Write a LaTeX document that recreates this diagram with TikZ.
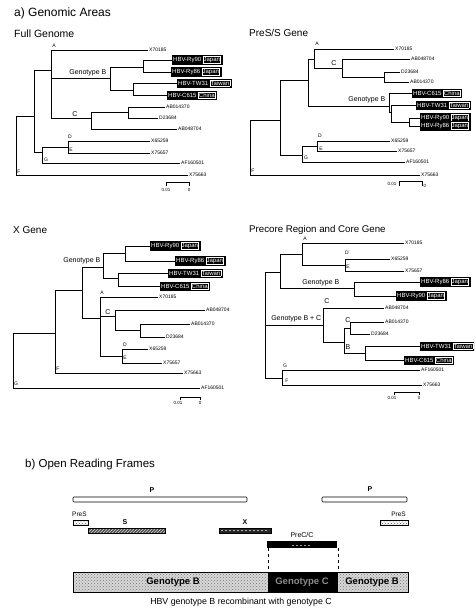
\documentclass[tikz,border=0pt]{standalone}
\usepackage{fontspec}
\setmainfont{Liberation Sans}
\usetikzlibrary{patterns}
\newcommand\sbx[2]{#1\hspace{1.5pt}{\setlength\fboxsep{0.5pt}\setlength\fboxrule{0.4pt}\fcolorbox{white}{black}{#2}}}
\begin{document}
\begin{tikzpicture}[x=1pt,y=-1pt,
 tree/.style={line width=0.75pt},
 leaf/.style={anchor=west, inner sep=1pt, font=\fontsize{5}{6}\selectfont},
 strain/.style={anchor=west, fill=black, draw=black, text=white, inner sep=1pt, font=\fontsize{6}{7}\selectfont},
 clade/.style={inner sep=0pt, font=\fontsize{5}{6}\selectfont},
 glab/.style={anchor=south east, inner sep=0.5pt, font=\fontsize{7}{8}\selectfont},
 sub/.style={anchor=west, inner sep=0pt, font=\fontsize{10}{12}\selectfont},
 ttl/.style={anchor=west, inner sep=0pt, font=\fontsize{12}{14}\selectfont},
 sc/.style={inner sep=0.5pt, font=\fontsize{4.5}{5}\selectfont},
 orf/.style={inner sep=0pt, font=\fontsize{7}{8}\selectfont\bfseries},
 bar/.style={line width=0.6pt}]
\useasboundingbox (0,0) rectangle (474,612);
\clip (0,0) rectangle (474,612);

\node[ttl] (ta) at (14,13) {a)\ Genomic Areas};

% ================= Panel 1: Full Genome
\node[sub,font=\fontsize{10.5}{12}\selectfont] (t1) at (14,34) {Full Genome};
\coordinate (r1) at (16,145);
\coordinate (n1) at (34,116);
\coordinate (n2) at (51,70);
\coordinate (nB) at (110,78);
\coordinate (nB1) at (143,67);
\coordinate (nB2) at (133,90);
\coordinate (nC) at (91,118);
\coordinate (nC1) at (128,112);
\coordinate (nG) at (42,152);
\coordinate (nD) at (68,147);
\node[leaf] (a1) at (148,50) {X70185};
\node[strain] (b11) at (172,60) {\sbx{HBV-Ry90}{Japan}};
\node[strain] (b12) at (171,72) {\sbx{HBV-Ry86}{Japan}};
\node[strain] (b13) at (177,83) {\sbx{HBV-TW31}{Taiwan}};
\node[strain] (b14) at (167,95) {\sbx{HBV-C615}{China}};
\node[leaf] (c11) at (165,107) {AB014370};
\node[leaf] (c12) at (158,118) {D23684};
\node[leaf] (c13) at (177,129) {AB048704};
\node[leaf] (d1) at (150,141) {X65259};
\node[leaf] (e1) at (150,153) {X75657};
\node[leaf] (g1) at (180,163) {AF160501};
\node[leaf] (f1) at (188,175) {X75663};
\draw[tree] (r1) |- (n1); \draw[tree] (r1) |- (f1.west);
\draw[tree] (n1) |- (n2); \draw[tree] (n1) |- (nG);
\draw[tree] (n2) |- (a1.west); \draw[tree] (n2) |- (nB); \draw[tree] (n2) |- (nC);
\draw[tree] (nB) |- (nB1); \draw[tree] (nB) |- (nB2);
\draw[tree] (nB1) |- (b11.west); \draw[tree] (nB1) |- (b12.west);
\draw[tree] (nB2) |- (b13.west); \draw[tree] (nB2) |- (b14.west);
\draw[tree] (nC) |- (nC1); \draw[tree] (nC) |- (c13.west);
\draw[tree] (nC1) |- (c11.west); \draw[tree] (nC1) |- (c12.west);
\draw[tree] (nG) |- (nD); \draw[tree] (nG) |- (g1.west);
\draw[tree] (nD) |- (d1.west); \draw[tree] (nD) |- (e1.west);
\node[clade] (l1A) at (54,46) {A};
\node[glab] (l1B) at (107,77) {Genotype B};
\node[clade,font=\fontsize{7}{8}\selectfont] (l1C) at (75,114) {C};
\node[clade] (l1D) at (70,137) {D};
\node[clade] (l1E) at (71,150) {E};
\node[clade] (l1G) at (46,160) {G};
\node[clade] (l1F) at (19,172) {F};
\coordinate (s1a) at (166,182); \coordinate (s1b) at (189,182);
\draw[tree] ([yshift=-4pt]s1a) -- (s1a) -- (s1b) -- ([yshift=-4pt]s1b);
\node[sc] (s1l) at (166,190) {0.01};
\node[sc] (s1r) at (189,190) {0};

% ================= Panel 2: PreS/S Gene
\node[sub] (t2) at (249,33) {PreS/S Gene};
\coordinate (r2) at (250,150);
\coordinate (n21) at (280,120);
\coordinate (n22) at (308,80);
\coordinate (nA2) at (314,59);
\coordinate (nC2) at (342,68);
\coordinate (nC2b) at (384,77);
\coordinate (nB2x) at (389,106);
\coordinate (nB2b) at (391,112);
\coordinate (nB2c) at (409,122);
\coordinate (nD2G) at (302,155);
\coordinate (nD2) at (317,146);
\node[leaf] (a2) at (394,49) {X70185};
\node[leaf] (c21) at (410,59) {AB048704};
\node[leaf] (c22) at (400,72) {D23684};
\node[leaf] (c23) at (409,82) {AB014370};
\node[strain] (b21) at (412,93) {\sbx{HBV-C615}{China}};
\node[strain] (b22) at (416,105) {\sbx{HBV-TW31}{Taiwan}};
\node[strain] (b23) at (420,118) {\sbx{HBV-Ry90}{Japan}};
\node[strain] (b24) at (420,126) {\sbx{HBV-Ry86}{Japan}};
\node[leaf] (d2) at (390,141) {X65259};
\node[leaf] (e2) at (397,151) {X75657};
\node[leaf] (g2) at (405,162) {AF160501};
\node[leaf] (f2) at (420,175) {X75663};
\draw[tree] (r2) |- (n21); \draw[tree] (r2) |- (f2.west);
\draw[tree] (n21) |- (n22); \draw[tree] (n21) |- (nD2G);
\draw[tree] (n22) |- (nA2); \draw[tree] (n22) |- (nB2x);
\draw[tree] (nA2) |- (a2.west); \draw[tree] (nA2) |- (nC2);
\draw[tree] (nC2) |- (c21.west); \draw[tree] (nC2) |- (nC2b);
\draw[tree] (nC2b) |- (c22.west); \draw[tree] (nC2b) |- (c23.west);
\draw[tree] (nB2x) |- (b21.west); \draw[tree] (nB2x) |- (nB2b);
\draw[tree] (nB2b) |- (b22.west); \draw[tree] (nB2b) |- (nB2c);
\draw[tree] (nB2c) |- (b23.west); \draw[tree] (nB2c) |- (b24.west);
\draw[tree] (nD2G) |- (nD2); \draw[tree] (nD2G) |- (g2.west);
\draw[tree] (nD2) |- (d2.west); \draw[tree] (nD2) |- (e2.west);
\node[clade] (l2A) at (317,44) {A};
\node[clade,font=\fontsize{7}{8}\selectfont] (l2C) at (334,63) {C};
\node[glab] (l2B) at (386,104) {Genotype B};
\node[clade] (l2D) at (320,136) {D};
\node[clade] (l2E) at (321,149) {E};
\node[clade] (l2G) at (306,158) {G};
\node[clade] (l2F) at (253,171) {F};
\coordinate (s2a) at (399,181); \coordinate (s2b) at (422,181);
\draw[tree] ([yshift=-5pt]s2a) -- (s2a) -- (s2b) -- ([yshift=-5pt]s2b);
\node[sc,anchor=east] (s2l) at (397,184) {0.01};
\node[sc,anchor=west] (s2r) at (423,186) {0};

% ================= Panel 3: X Gene
\node[sub] (t3) at (13,230) {X Gene};
\coordinate (r3) at (13,360);
\coordinate (n31) at (55,333);
\coordinate (n32) at (82,290);
\coordinate (nB3) at (103,267);
\coordinate (nB3a) at (125,253);
\coordinate (nB3b) at (118,278);
\coordinate (nA3) at (100,318);
\coordinate (nC3) at (115,316);
\coordinate (nC3b) at (140,330);
\coordinate (nDE3) at (122,356);
\node[strain] (b31) at (150,246) {\sbx{HBV-Ry90}{Japan}};
\node[strain] (b32) at (175,261) {\sbx{HBV-Ry86}{Japan}};
\node[strain] (b33) at (168,273) {\sbx{HBV-TW31}{Taiwan}};
\node[strain] (b34) at (160,286) {\sbx{HBV-C615}{China}};
\node[leaf] (a3) at (158,297) {X70185};
\node[leaf] (c31) at (205,310) {AB048704};
\node[leaf] (c32) at (190,324) {AB014370};
\node[leaf] (c33) at (165,337) {D23684};
\node[leaf] (d3) at (148,349) {X65259};
\node[leaf] (e3) at (162,363) {X75657};
\node[leaf] (f3) at (183,373) {X75663};
\node[leaf] (g3) at (200,388) {AF160501};
\draw[tree] (r3) |- (n31); \draw[tree] (r3) |- (g3.west);
\draw[tree] (n31) |- (n32); \draw[tree] (n31) |- (f3.west);
\draw[tree] (n32) |- (nB3); \draw[tree] (n32) |- (nA3);
\draw[tree] (nB3) |- (nB3a); \draw[tree] (nB3) |- (nB3b);
\draw[tree] (nB3a) |- (b31.west); \draw[tree] (nB3a) |- (b32.west);
\draw[tree] (nB3b) |- (b33.west); \draw[tree] (nB3b) |- (b34.west);
\draw[tree] (nA3) |- (a3.west); \draw[tree] (nA3) |- (nC3); \draw[tree] (nA3) |- (nDE3);
\draw[tree] (nC3) |- (c31.west); \draw[tree] (nC3) |- (nC3b);
\draw[tree] (nC3b) |- (c32.west); \draw[tree] (nC3b) |- (c33.west);
\draw[tree] (nDE3) |- (d3.west); \draw[tree] (nDE3) |- (e3.west);
\node[glab] (l3B) at (101,265) {Genotype B};
\node[clade] (l3A) at (102,293) {A};
\node[clade,font=\fontsize{7}{8}\selectfont] (l3C) at (108,312) {C};
\node[clade] (l3D) at (125,345) {D};
\node[clade] (l3E) at (125,358) {E};
\node[clade] (l3F) at (58,369) {F};
\node[clade] (l3G) at (16,384) {G};
\coordinate (s3a) at (180,397); \coordinate (s3b) at (200,397);
\draw[tree] ([yshift=-3pt]s3a) -- (s3a) -- (s3b) -- ([yshift=-3pt]s3b);
\node[sc] (s3l) at (178,403) {0.01};
\node[sc] (s3r) at (200,403) {0};

% ================= Panel 4: Precore Region and Core Gene
\node[sub,font=\fontsize{9.7}{12}\selectfont] (t4) at (249,230) {Precore Region and Core Gene};
\coordinate (r4) at (265,325);
\coordinate (n41) at (280,272);
\coordinate (nA4) at (302,254);
\coordinate (nDE4) at (345,265);
\coordinate (nB4) at (354,288);
\coordinate (nBC) at (323,325);
\coordinate (nCB) at (344,342);
\coordinate (nC4) at (350,328);
\coordinate (nB4b) at (365,353);
\coordinate (nGF) at (282,378);
\node[leaf] (a4) at (404,243) {X70185};
\node[leaf] (d4) at (390,259) {X65259};
\node[leaf] (e4) at (404,271) {X75657};
\node[strain] (b41) at (420,282) {\sbx{HBV-Ry86}{Japan}};
\node[strain] (b42) at (396,296) {\sbx{HBV-Ry90}{Japan}};
\node[leaf] (c41) at (384,308) {AB048704};
\node[leaf] (c42) at (384,322) {AB014370};
\node[leaf] (c43) at (370,334) {D23684};
\node[strain] (b43) at (420,346) {\sbx{HBV-TW31}{Taiwan}};
\node[strain] (b44) at (404,360) {\sbx{HBV-C615}{China}};
\node[leaf] (g4) at (420,370) {AF160501};
\node[leaf] (f4) at (422,385) {X75663};
\draw[tree] (r4) |- (n41); \draw[tree] (r4) |- (nBC); \draw[tree] (r4) |- (nGF);
\draw[tree] (n41) |- (nA4); \draw[tree] (n41) |- (nB4);
\draw[tree] (nA4) |- (a4.west); \draw[tree] (nA4) |- (nDE4);
\draw[tree] (nDE4) |- (d4.west); \draw[tree] (nDE4) |- (e4.west);
\draw[tree] (nB4) |- (b41.west); \draw[tree] (nB4) |- (b42.west);
\draw[tree] (nBC) |- (c41.west); \draw[tree] (nBC) |- (nCB);
\draw[tree] (nCB) |- (nC4); \draw[tree] (nCB) |- (nB4b);
\draw[tree] (nC4) |- (c42.west); \draw[tree] (nC4) |- (c43.west);
\draw[tree] (nB4b) |- (b43.west); \draw[tree] (nB4b) |- (b44.west);
\draw[tree] (nGF) |- (g4.west); \draw[tree] (nGF) |- (f4.west);
\node[clade] (l4A) at (305,239) {A};
\node[clade] (l4D) at (347,253) {D};
\node[clade] (l4E) at (348,267) {E};
\node[glab] (l4B) at (340,287) {Genotype B};
\node[glab] (l4BC) at (322,323) {Genotype B + C};
\node[clade,font=\fontsize{7}{8}\selectfont] (l4C1) at (327,301) {C};
\node[clade,font=\fontsize{7}{8}\selectfont] (l4C2) at (348,320) {C};
\node[clade,font=\fontsize{7}{8}\selectfont] (l4Bx) at (348,347) {B};
\node[clade] (l4G) at (285,366) {G};
\node[clade] (l4F) at (287,381) {F};
\coordinate (s4a) at (394,392); \coordinate (s4b) at (419,392);
\draw[tree] ([yshift=-3pt]s4a) -- (s4a) -- (s4b) -- ([yshift=-3pt]s4b);
\node[sc] (s4l) at (392,398) {0.01};
\node[sc] (s4r) at (419,398) {0};

% ================= Panel b: Open Reading Frames
\node[ttl,font=\fontsize{11.5}{13}\selectfont] (tb) at (25,465) {b)\ Open Reading Frames};
\draw[bar,fill=white,rounded corners=1pt] (73,497) rectangle (247,502);
\draw[bar,fill=white,rounded corners=1pt] (322,497) rectangle (407,502);
\node[orf] (P1) at (152,490) {P};
\node[orf] (P2) at (370,489) {P};
\node[orf,anchor=south west,font=\fontsize{6.5}{7}\selectfont] (pres1) at (72,517) {PreS};
\node[orf,anchor=south east,font=\fontsize{6.5}{7}\selectfont] (pres2) at (406,517) {PreS};
\fill[white] (73,520) rectangle (88,525);
\fill[pattern=crosshatch dots, pattern color=black!70] (73,520) rectangle (88,525);
\draw[bar] (73,520) rectangle (88,525);
\fill[white] (380,520) rectangle (408,525);
\fill[pattern=crosshatch dots, pattern color=black!70] (380,520) rectangle (408,525);
\draw[bar] (380,520) rectangle (408,525);
\node[orf] (S) at (125,522) {S};
\fill[black!70] (88,528) rectangle (165,533);
\fill[pattern=north east lines, pattern color=white!85!black] (88,528) rectangle (165,533);
\draw[bar] (88,528) rectangle (165,533);
\node[orf] (X) at (245,522) {X};
\fill[black!85] (219,528) rectangle (271,533);
\draw[white!70!black,dash pattern=on 2pt off 2pt,line width=0.6pt] (221,530.5) -- (269,530.5);
\draw[bar] (219,528) rectangle (271,533);
\node[orf,font=\fontsize{7}{8}\selectfont] (PC) at (302,535) {PreC/C};
\fill[black] (267,541) rectangle (337,548);
\draw[white!60!black,dash pattern=on 2pt off 2pt,line width=0.5pt] (292,545) -- (310,545);
\draw[dashed,line width=0.6pt] (268,548) -- (268,572);
\draw[dashed,line width=0.6pt] (338,548) -- (338,572);
\fill[black!15] (73,572) rectangle (268,592);
\fill[pattern=crosshatch dots, pattern color=black!55] (73,572) rectangle (268,592);
\fill[black!15] (338,572) rectangle (408,592);
\fill[pattern=crosshatch dots, pattern color=black!55] (338,572) rectangle (408,592);
\fill[black] (268,572) rectangle (338,592);
\draw[bar] (73,572) rectangle (408,592);
\node[inner sep=0pt,font=\fontsize{9.5}{11}\selectfont\bfseries] (gB1) at (173,582) {Genotype B};
\node[inner sep=0pt,font=\fontsize{9.5}{11}\selectfont\bfseries,text=black!45] (gC) at (302,582) {Genotype C};
\node[inner sep=0pt,font=\fontsize{9.5}{11}\selectfont\bfseries] (gB2) at (372,582) {Genotype B};
\node[inner sep=0pt,font=\fontsize{8.8}{10}\selectfont] (cap) at (241,602) {HBV genotype B recombinant with genotype C};
\end{tikzpicture}
\end{document}
